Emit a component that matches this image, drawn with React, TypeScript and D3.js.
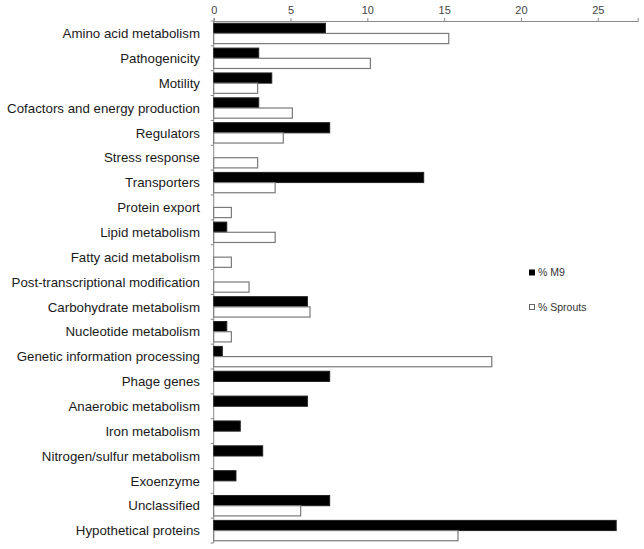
import React, { useEffect, useRef } from 'react';
import * as d3 from 'd3';

// categories top to bottom
const categories = [
  'Amino acid metabolism',
  'Pathogenicity',
  'Motility',
  'Cofactors and energy production',
  'Regulators',
  'Stress response',
  'Transporters',
  'Protein export',
  'Lipid metabolism',
  'Fatty acid metabolism',
  'Post-transcriptional modification',
  'Carbohydrate metabolism',
  'Nucleotide metabolism',
  'Genetic information processing',
  'Phage genes',
  'Anaerobic metabolism',
  'Iron metabolism',
  'Nitrogen/sulfur metabolism',
  'Exoenzyme',
  'Unclassified',
  'Hypothetical proteins',
];

const m9 = [7.27, 2.93, 3.78, 2.93, 7.55, 0, 13.67, 0, 0.85, 0, 0, 6.1, 0.85, 0.56, 7.55, 6.1, 1.73, 3.19, 1.45, 7.55, 26.2];
const sprouts = [15.3, 10.2, 2.86, 5.12, 4.53, 2.86, 4.0, 1.15, 4.0, 1.15, 2.3, 6.27, 1.15, 18.1, 0, 0, 0, 0, 0, 5.66, 15.9];

const seriesNames = ['% M9', '% Sprouts'];
const xTicks = [0, 5, 10, 15, 20, 25];

const width = 644;
const height = 549;

function App() {
  const ref = useRef<SVGSVGElement>(null);

  useEffect(() => {
    const svg = d3.select(ref.current);
    svg.selectAll('*').remove();

    const x = d3.scaleLinear().domain([0, 27.6]).range([213.7, 637.7]);
    const y = d3.scaleBand().domain(categories).range([21, 543]).padding(0);
    const sub = d3.scaleBand().domain(['m9', 'sprouts']).range([0, y.bandwidth()]).paddingInner(0).paddingOuter(0.22);

    const axisColor = '#8a8a8a';

    // top axis
    const xAxis = svg.append('g')
      .attr('transform', `translate(0, ${y.range()[0]})`)
      .call(d3.axisTop(x).tickValues(xTicks).tickSize(3).tickPadding(4));
    xAxis.select('.domain').attr('stroke', axisColor);
    xAxis.selectAll('.tick line').attr('stroke', axisColor);
    xAxis.selectAll('.tick text')
      .attr('fill', '#444')
      .attr('font-family', 'Liberation Sans, Arial, sans-serif')
      .attr('font-size', 11);

    // left axis line + boundary ticks
    const x0 = x(0);
    svg.append('line')
      .attr('x1', x0).attr('x2', x0)
      .attr('y1', y.range()[0]).attr('y2', y.range()[1])
      .attr('stroke', axisColor);
    const bounds = categories.map((c) => y(c) as number).concat([y.range()[1]]);
    svg.append('g').selectAll('line')
      .data(bounds)
      .enter()
      .append('line')
      .attr('x1', x0 - 3).attr('x2', x0)
      .attr('y1', (d) => d).attr('y2', (d) => d)
      .attr('stroke', axisColor);

    // category labels
    svg.append('g').selectAll('text')
      .data(categories)
      .enter()
      .append('text')
      .attr('x', 200)
      .attr('y', (d) => (y(d) as number) + y.bandwidth() / 2)
      .attr('dy', '0.35em')
      .attr('text-anchor', 'end')
      .attr('font-family', 'Liberation Sans, Arial, sans-serif')
      .attr('font-size', 13.3)
      .attr('fill', '#1a1a1a')
      .text((d) => d);

    // bars
    const rows = categories.map((c, i) => ({ c, m9: m9[i], sprouts: sprouts[i] }));
    const g = svg.append('g');
    rows.forEach((r) => {
      if (r.m9 > 0) {
        g.append('rect')
          .attr('x', x0)
          .attr('y', (y(r.c) as number) + (sub('m9') as number))
          .attr('width', x(r.m9) - x0)
          .attr('height', sub.bandwidth())
          .attr('fill', '#000')
          .attr('stroke', '#222')
          .attr('stroke-width', 1);
      }
      if (r.sprouts > 0) {
        g.append('rect')
          .attr('x', x0)
          .attr('y', (y(r.c) as number) + (sub('sprouts') as number))
          .attr('width', x(r.sprouts) - x0)
          .attr('height', sub.bandwidth())
          .attr('fill', '#fff')
          .attr('stroke', '#7a7a7a')
          .attr('stroke-width', 1.2);
      }
    });

    // legend
    const legend = svg.append('g');
    seriesNames.forEach((name, i) => {
      const ly = 272.5 + i * 34.5;
      legend.append('rect')
        .attr('x', 529.5).attr('y', ly - 2.5)
        .attr('width', 5).attr('height', 5)
        .attr('fill', i === 0 ? '#000' : '#fff')
        .attr('stroke', i === 0 ? '#000' : '#666');
      legend.append('text')
        .attr('x', 538)
        .attr('y', ly)
        .attr('dy', '0.35em')
        .attr('font-family', 'Liberation Sans, Arial, sans-serif')
        .attr('font-size', 10.5)
        .attr('fill', '#333')
        .text(name);
    });
  }, []);

  return (
    <svg ref={ref} width={width} height={height}
      style={{ position: 'absolute', left: 0, top: 0, background: '#fff' }} />
  );
}

export default App;
